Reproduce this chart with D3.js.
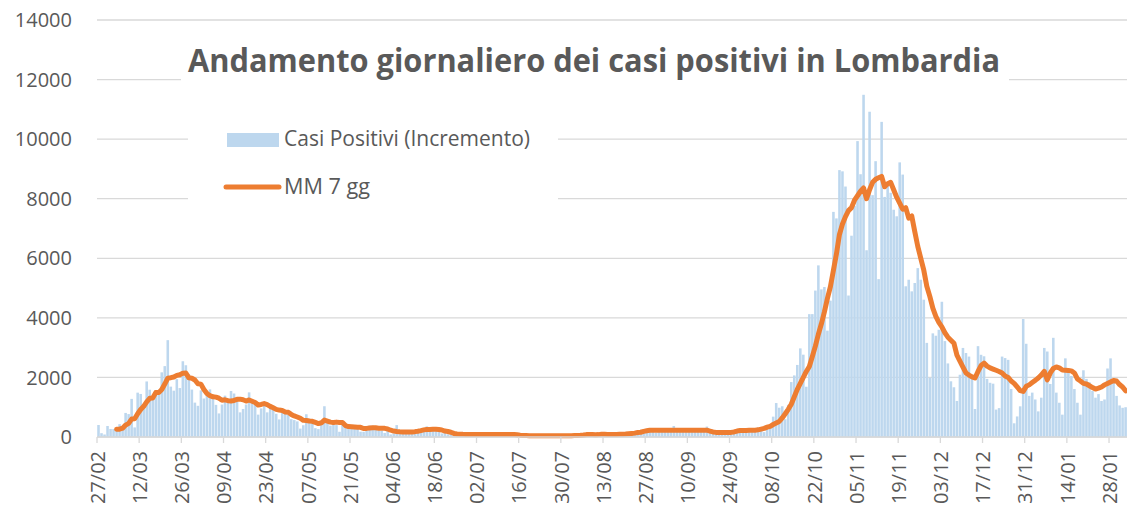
<!DOCTYPE html>
<html>
<head>
<meta charset="utf-8">
<script src="https://cdn.jsdelivr.net/npm/d3@7"></script>
<style>
  html, body { margin: 0; padding: 0; background: #fff; }
  svg { display: block; font-family: "Open Sans", sans-serif; }
</style>
</head>
<body>
<svg id="chart" width="1127" height="512"></svg>
<script>
// Days shown: 27/02/2020 .. 02/02/2021
const startDate = new Date(2020, 1, 27);
const endDate = new Date(2021, 1, 3);

// Daily new positives, one row per week
const casiPositivi = [
    403, 128, 84, 369, 270, 266, 300,
    431, 361, 808, 769, 1280, 322, 1489,
    1445, 1095, 1865, 1587, 1377, 1571, 1493,
    2171, 2380, 3251, 1691, 1555, 1942, 1643,
    2543, 2409, 2117, 1592, 1154, 1047, 1565,
    1292, 1455, 1598, 1337, 1079, 791, 1089,
    1388, 1246, 1544, 1460, 1337, 827, 941,
    1091, 1499, 1246, 1161, 751, 960, 1161,
    827, 1091, 920, 780, 590, 869, 815,
    739, 598, 568, 525, 282, 395, 764,
    614, 544, 297, 264, 462, 1033, 522,
    382, 436, 399, 175, 462, 316, 293,
    341, 355, 330, 178, 174, 354, 384,
    382, 352, 220, 210, 136, 210, 87,
    117, 400, 146, 193, 130, 165, 115,
    190, 213, 250, 195, 356, 244, 312,
    290, 180, 120, 140, 90, 110, 70,
    120, 90, 70, 60, 80, 90, 100,
    110, 60, 90, 80, 50, 100, 70,
    120, 90, 70, 60, 70, 100, 90,
    50, 40, 60, 30, 40, 55, 60,
    50, 45, 40, 30, 60, 45, 55,
    45, 50, 40, 35, 60, 50, 55,
    60, 50, 40, 70, 65, 90, 80,
    100, 95, 80, 60, 110, 85, 90,
    90, 110, 120, 70, 140, 150, 190,
    230, 260, 220, 150, 200, 280, 240,
    250, 230, 370, 190, 200, 270, 250,
    230, 240, 260, 180, 210, 280, 350,
    200, 190, 170, 120, 110, 150, 140,
    160, 230, 240, 200, 230, 210, 260,
    202, 241, 317, 301, 164, 359, 421,
    683, 1140, 983, 1032, 596, 1080, 1844,
    2067, 2419, 2975, 2764, 1687, 4125, 4126,
    4916, 5762, 4956, 5035, 3570, 4578, 7558,
    7339, 8960, 8919, 8409, 4750, 6758, 7758,
    9934, 8822, 11489, 6270, 10920, 8120, 9260,
    5300, 10580, 8060, 8450, 8200, 7630, 7410,
    9220, 8810, 5060, 5280, 4890, 5170, 5670,
    5280, 4610, 3160, 1990, 3480, 3400, 3600,
    4540, 3220, 2470, 1870, 1670, 1210, 2090,
    2990, 2820, 2700, 2070, 940, 3050, 2760,
    2710, 1950, 1820, 1790, 920, 970, 2700,
    2650, 2590, 1610, 460, 690, 1030, 3960,
    3130, 1380, 1490, 1260, 860, 1320, 2990,
    2870, 1780, 3330, 1490, 1150, 750, 2640,
    2300, 2050, 1610, 1150, 750, 2240, 1950,
    1840, 1550, 1320, 1440, 1210, 1260, 2300,
    2640, 1900, 1380, 1060, 980, 1000
];

// 7-day moving average line
const mediaMobile = [
    null, null, null, null, null, null, 260,
    264, 297, 401, 458, 602, 610, 780,
    925, 1030, 1181, 1298, 1311, 1490, 1490,
    1594, 1778, 1976, 1991, 2016, 2069, 2090,
    2144, 2148, 1986, 1972, 1914, 1786, 1775,
    1597, 1460, 1386, 1350, 1339, 1302, 1234,
    1248, 1218, 1211, 1228, 1265, 1270, 1249,
    1207, 1243, 1200, 1157, 1074, 1093, 1124,
    1086, 1028, 981, 927, 904, 891, 842,
    829, 759, 708, 672, 628, 560, 553,
    535, 527, 489, 451, 477, 568, 534,
    500, 485, 500, 487, 487, 384, 352,
    346, 334, 324, 325, 284, 289, 302,
    308, 308, 292, 296, 291, 270, 228,
    200, 185, 175, 170, 165, 165, 170,
    180, 195, 215, 240, 255, 255, 260,
    258, 250, 235, 200, 185, 160, 120,
    100, 95, 90, 88, 85, 85, 85,
    85, 85, 85, 85, 85, 85, 85,
    85, 85, 85, 85, 85, 82, 75,
    60, 50, 48, 46, 45, 45, 45,
    45, 45, 45, 45, 45, 45, 45,
    45, 45, 45, 45, 48, 50, 55,
    65, 80, 85, 80, 75, 80, 90,
    90, 85, 80, 80, 85, 90, 95,
    100, 110, 120, 130, 150, 160, 190,
    210, 225, 230, 230, 230, 230, 230,
    230, 230, 230, 230, 230, 230, 230,
    230, 230, 230, 230, 230, 230, 228,
    200, 170, 155, 150, 150, 150, 150,
    155, 170, 200, 215, 220, 220, 225,
    225, 230, 240, 265, 290, 330, 360,
    420, 470, 520, 640, 780, 930, 1100,
    1350, 1600, 1800, 2000, 2200, 2370, 2700,
    3050, 3450, 3800, 4200, 4650, 5050, 5600,
    6150, 6800, 7150, 7400, 7600, 7700, 7950,
    8100, 8250, 8360, 8000, 8300, 8550, 8650,
    8700, 8750, 8400, 8500, 8550, 8300, 8050,
    7850, 7650, 7700, 7350, 7420, 6900, 6400,
    6000, 5600, 5060, 4720, 4330, 4050, 3850,
    3700, 3500, 3350, 3250, 3150, 2750, 2550,
    2350, 2150, 2080, 2020, 1980, 2200, 2400,
    2480, 2380, 2320, 2280, 2240, 2200, 2150,
    2050, 2000, 1880, 1800, 1680, 1560, 1530,
    1700, 1750, 1830, 1900, 1980, 2080, 2200,
    1920, 2150, 2300, 2350, 2320, 2250, 2240,
    2230, 2220, 2150, 1950, 1880, 1800, 1780,
    1720, 1660, 1610, 1640, 1680, 1750, 1800,
    1850, 1900, 1880, 1760, 1680, 1550
];

const yTicks = [0, 2000, 4000, 6000, 8000, 10000, 12000, 14000];
const xTickLabels = ['27/02', '12/03', '26/03', '09/04', '23/04', '07/05', '21/05',
    '04/06', '18/06', '02/07', '16/07', '30/07', '13/08', '27/08', '10/09', '24/09',
    '08/10', '22/10', '05/11', '19/11', '03/12', '17/12', '31/12', '14/01', '28/01'];

const titleText = 'Andamento giornaliero dei casi positivi in Lombardia';
const seriesNames = ['Casi Positivi (Incremento)', 'MM 7 gg'];

const textColor = '#595959';
const gridColor = '#d9d9d9';
const barColor = '#bdd7ee';
const lineColor = '#ed7d31';

const days = d3.timeDay.range(startDate, endDate);
const fmt = d3.timeFormat('%d/%m');

const svg = d3.select('#chart');

// Scales
const x = d3.scaleBand()
    .domain(days)
    .range([97, 97 + days.length * 3.012])
    .paddingInner(0.15)
    .paddingOuter(0.075);
const step = x.step();
const y = d3.scaleLinear().domain([0, 14000]).range([437, 20]);

// Gridlines + y labels
svg.append('g')
    .selectAll('line')
    .data(yTicks)
    .enter()
    .append('line')
    .attr('x1', 97)
    .attr('x2', 1127)
    .attr('y1', d => y(d))
    .attr('y2', d => y(d))
    .attr('stroke', gridColor)
    .attr('stroke-width', 1.3);

svg.append('g')
    .selectAll('text')
    .data(yTicks)
    .enter()
    .append('text')
    .attr('x', 72)
    .attr('y', d => y(d))
    .attr('dy', '0.36em')
    .attr('text-anchor', 'end')
    .attr('fill', textColor)
    .style('font-size', '20px')
    .text(d => d);

// Bars
svg.append('g')
    .selectAll('rect')
    .data(casiPositivi)
    .enter()
    .append('rect')
    .attr('x', (d, i) => x(days[i]))
    .attr('width', x.bandwidth())
    .attr('y', d => y(d))
    .attr('height', d => y(0) - y(d))
    .attr('fill', barColor);

// Moving average line
const line = d3.line()
    .defined(d => d != null)
    .x((d, i) => x(days[i]) + x.bandwidth() / 2)
    .y(d => y(d));

svg.append('path')
    .datum(mediaMobile)
    .attr('fill', 'none')
    .attr('stroke', lineColor)
    .attr('stroke-width', 5)
    .attr('stroke-linejoin', 'round')
    .attr('stroke-linecap', 'round')
    .attr('d', line);

// X axis: ticks every 14 days at the left edge of the day
const tickDays = xTickLabels.map(lbl => days.find(d => fmt(d) === lbl));
const tickX = d => x(d) - step * 0.075;
const xAxis = svg.append('g');
xAxis.append('line')
    .attr('x1', 97).attr('x2', 1127)
    .attr('y1', 437).attr('y2', 437)
    .attr('stroke', gridColor)
    .attr('stroke-width', 1.3);
xAxis.selectAll('.tick')
    .data(tickDays)
    .enter()
    .append('line')
    .attr('x1', tickX)
    .attr('x2', tickX)
    .attr('y1', 437)
    .attr('y2', 443)
    .attr('stroke', gridColor)
    .attr('stroke-width', 1.3);
xAxis.selectAll('text')
    .data(tickDays)
    .enter()
    .append('text')
    .attr('transform', d => `translate(${tickX(d) + 0.5},451) rotate(-90)`)
    .attr('dy', '0.36em')
    .attr('text-anchor', 'end')
    .attr('fill', textColor)
    .style('font-size', '20px')
    .text(d => fmt(d));

// Title (white box hides the gridlines behind it)
svg.append('rect')
    .attr('x', 181).attr('y', 36)
    .attr('width', 828).attr('height', 54)
    .attr('fill', '#fff');
svg.append('text')
    .attr('x', 594)
    .attr('y', 72)
    .attr('text-anchor', 'middle')
    .attr('fill', textColor)
    .attr('textLength', 812)
    .attr('lengthAdjust', 'spacingAndGlyphs')
    .style('font-size', '32px')
    .style('font-weight', 'bold')
    .text(titleText);

// Legend
const legend = svg.append('g');
legend.append('rect')
    .attr('x', 188).attr('y', 112)
    .attr('width', 370).attr('height', 104)
    .attr('fill', '#fff');
legend.append('rect')
    .attr('x', 227).attr('y', 133)
    .attr('width', 52).attr('height', 14)
    .attr('fill', barColor);
legend.append('line')
    .attr('x1', 226).attr('x2', 279)
    .attr('y1', 187).attr('y2', 187)
    .attr('stroke', lineColor)
    .attr('stroke-width', 5)
    .attr('stroke-linecap', 'round');
legend.append('text')
    .attr('x', 284).attr('y', 146)
    .attr('fill', textColor)
    .attr('textLength', 246)
    .attr('lengthAdjust', 'spacingAndGlyphs')
    .style('font-size', '21px')
    .text(seriesNames[0]);
legend.append('text')
    .attr('x', 284).attr('y', 193.5)
    .attr('fill', textColor)
    .attr('textLength', 86)
    .attr('lengthAdjust', 'spacingAndGlyphs')
    .style('font-size', '21px')
    .text(seriesNames[1]);
</script>
</body>
</html>
